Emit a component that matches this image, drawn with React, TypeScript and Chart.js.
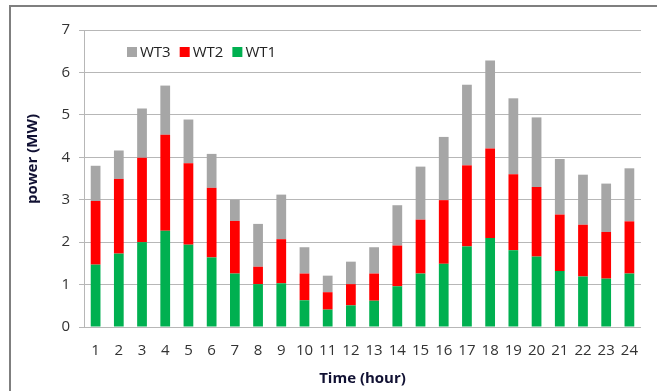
import React, { useEffect, useRef } from "react";
import { Chart, registerables } from "chart.js";

Chart.register(...registerables);

const hours = ["1","2","3","4","5","6","7","8","9","10","11","12","13","14","15","16","17","18","19","20","21","22","23","24"];
const wt1 = [1.47,1.73,2.0,2.27,1.94,1.64,1.26,1.01,1.03,0.63,0.41,0.51,0.62,0.96,1.26,1.49,1.9,2.1,1.81,1.66,1.32,1.19,1.14,1.26];
const wt2 = [1.5,1.76,1.99,2.26,1.92,1.64,1.24,0.41,1.04,0.63,0.41,0.5,0.64,0.96,1.27,1.5,1.91,2.11,1.79,1.64,1.33,1.22,1.1,1.23];
const wt3 = [0.83,0.67,1.16,1.16,1.03,0.8,0.5,1.01,1.05,0.62,0.39,0.53,0.62,0.95,1.25,1.49,1.9,2.07,1.79,1.64,1.31,1.18,1.14,1.25];
const seriesNames = ["WT1", "WT2", "WT3"];
const seriesColors = ["#00b050", "#ff0000", "#a6a6a6"];
const yTitle = "power (MW)";
const xTitle = "Time (hour)";

const FONT = "'Open Sans', 'DejaVu Sans', sans-serif";

const decorPlugin = {
  id: "decor",
  beforeDraw(chart: any) {
    const ctx = chart.ctx;
    ctx.save();
    ctx.fillStyle = "#ffffff";
    ctx.fillRect(0, 0, chart.width, chart.height);
    ctx.fillStyle = "#7f7f7f";
    ctx.fillRect(9, 5, chart.width - 9, 2);
    ctx.fillRect(9, 5, 2, chart.height - 5);
    ctx.restore();
  },
  afterDraw(chart: any) {
    const ctx = chart.ctx;
    const area = chart.chartArea;
    ctx.save();
    // legend (reversed order)
    ctx.font = `15px ${FONT}`;
    ctx.textBaseline = "middle";
    ctx.textAlign = "left";
    let x = area.left + 43;
    const y = area.top + 22;
    const dsList = chart.data.datasets.slice().reverse();
    for (const ds of dsList) {
      ctx.fillStyle = ds.backgroundColor;
      ctx.fillRect(x, y - 5, 10, 10);
      x += 13;
      ctx.fillStyle = "#222222";
      ctx.fillText(ds.label, x, y + 0.5);
      x += ctx.measureText(ds.label).width + 9;
    }
    // axis titles
    ctx.font = `bold 15px ${FONT}`;
    ctx.fillStyle = "#111133";
    ctx.textAlign = "center";
    ctx.fillText(xTitle, (area.left + area.right) / 2, 379);
    ctx.translate(33, 159);
    ctx.rotate(-Math.PI / 2);
    ctx.fillText(yTitle, 0, 0);
    ctx.restore();
  },
};

export default function App() {
  const ref = useRef<HTMLCanvasElement | null>(null);
  useEffect(() => {
    if (!ref.current) return;
    const data = [wt1, wt2, wt3];
    const chart = new Chart(ref.current, {
      type: "bar",
      data: {
        labels: hours,
        datasets: data.map((d, i) => ({
          label: seriesNames[i],
          data: d,
          backgroundColor: seriesColors[i],
          borderWidth: 0,
          barPercentage: 0.42,
          categoryPercentage: 1,
        })),
      },
      options: {
        responsive: false,
        animation: false,
        layout: { padding: { top: 30, right: 16, left: 0, bottom: 0 } },
        plugins: { legend: { display: false }, tooltip: { enabled: false } },
        scales: {
          x: {
            stacked: true,
            grid: { display: false, drawTicks: false },
            border: { display: false },
            ticks: {
              autoSkip: false,
              maxRotation: 0,
              padding: 15,
              color: "#333333",
              font: { family: FONT, size: 15 },
            },
            afterFit: (s: any) => { s.height = 64; },
          },
          y: {
            stacked: true,
            min: 0,
            max: 7,
            ticks: {
              stepSize: 1,
              padding: 9,
              color: "#333333",
              font: { family: FONT, size: 15 },
            },
            grid: { color: "#b7b7b7", lineWidth: 1, tickLength: 5 },
            border: { display: true, color: "#b7b7b7", width: 1 },
            afterFit: (s: any) => { s.width = 84; },
          },
        },
      },
      plugins: [decorPlugin],
    });
    return () => chart.destroy();
  }, []);
  return (
    <div style={{ position: "fixed", left: 0, top: 0, width: 657, height: 391, background: "#fff" }}>
      <canvas ref={ref} width={657} height={391} style={{ display: "block" }} />
    </div>
  );
}
